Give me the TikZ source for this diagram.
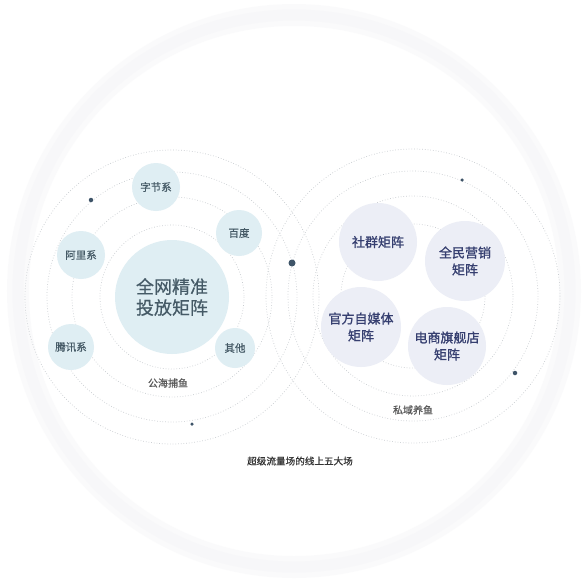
\documentclass[tikz,border=0pt]{standalone}
\usepackage{fontspec}
\newfontfamily\cjk{Noto Sans CJK SC}
\newfontfamily\cjkm[FakeBold=0.5]{Noto Sans CJK SC}
\newfontfamily\cjkb[FakeBold=1.2]{Noto Sans CJK SC}
\definecolor{lfill}{HTML}{DFEEF3}
\definecolor{ltext}{HTML}{455A66}
\definecolor{rfill}{HTML}{ECEEF6}
\definecolor{rtext}{HTML}{363F70}
\definecolor{ringc}{HTML}{C8CCD0}
\definecolor{dotc}{HTML}{3E5468}
\definecolor{halo}{HTML}{F7F7F9}
\tikzset{
  ringline/.style={draw=ringc, line width=0.7pt, dash pattern=on 0.7pt off 2pt},
  lsat/.style={circle, fill=lfill, inner sep=0pt, text=ltext, align=center, font=\cjkm\fontsize{10.5}{12}\selectfont},
  rbig/.style={circle, fill=rfill, inner sep=0pt, minimum size=78pt, text=rtext, align=center, font=\cjkb\fontsize{13}{17}\selectfont},
  tinydot/.style={circle, fill=dotc, inner sep=0pt},
  caption/.style={font=\cjkm\fontsize{10}{12}\selectfont, text=black!65}
}
\begin{document}
\begin{tikzpicture}[x=1pt,y=-1pt]
\useasboundingbox (0,0) rectangle (588,581);
\fill[white] (0,0) rectangle (588,581);
% faint halo circle
\draw[halo, line width=22pt, opacity=0.5] (294,291) circle (276);
\draw[halo, line width=11pt] (294,291) circle (276);
% rings
\coordinate (lc) at (172,297);
\coordinate (rc) at (413,296);
\foreach \r in {72,100,125,147} {
  \draw[ringline] (lc) circle (\r);
  \draw[ringline] (rc) circle (\r);
}
% left system
\node[circle, fill=lfill, inner sep=0pt, minimum size=114pt, text=ltext, align=center, font=\cjkm\fontsize{18}{21}\selectfont] (center) at (lc) {全网精准\\投放矩阵};
\node[lsat, minimum size=48pt] (zijie) at (156,187) {字节系};
\node[lsat, minimum size=46pt] (baidu) at (239,233) {百度};
\node[lsat, minimum size=48pt] (ali) at (81,255) {阿里系};
\node[lsat, minimum size=46pt] (tencent) at (71,347) {腾讯系};
\node[lsat, minimum size=40pt] (other) at (235,348) {其他};
\node[caption] (gonghai) at (168,383) {公海捕鱼};
% right system
\node[rbig] (shequn) at (378,242) {社群矩阵};
\node[rbig, minimum size=80pt] (quanmin) at (465,261) {全民营销\\矩阵};
\node[rbig, minimum size=80pt] (guanfang) at (361,327) {官方自媒体\\矩阵};
\node[rbig] (dianshang) at (447,346) {电商旗舰店\\矩阵};
\node[caption] (siyu) at (413,410) {私域养鱼};
% dots
\node[tinydot, minimum size=7pt] (d0) at (292,263) {};
\node[tinydot, minimum size=4.5pt] (d1) at (91,200) {};
\node[tinydot, minimum size=3.5pt] (d2) at (192,424) {};
\node[tinydot, minimum size=3.5pt] (d3) at (462,180) {};
\node[tinydot, minimum size=4.5pt] (d4) at (515,373) {};
% title
\node[font=\cjkm\fontsize{9.6}{11}\selectfont, text=black!80] (title) at (300,461) {超级流量场的线上五大场};
\end{tikzpicture}
\end{document}
